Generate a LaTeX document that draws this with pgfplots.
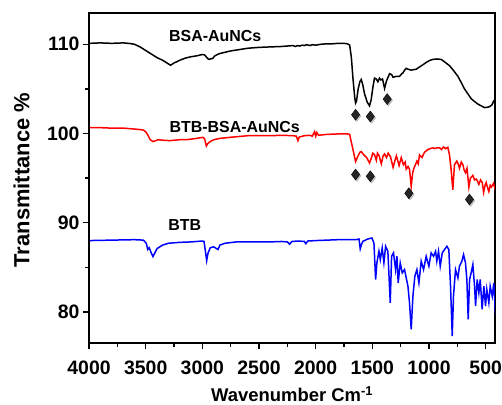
\documentclass[border=0pt]{standalone}
\usepackage{fontspec}
\setmainfont{Liberation Sans}
\usepackage{pgfplots}
\pgfplotsset{compat=1.18}
\begin{document}
\begin{tikzpicture}
\begin{axis}[
  scale only axis, width=406bp, height=330bp,
  x dir=reverse, xmin=415, xmax=4000, ymin=76.5, ymax=113.5,
  xtick={500,1000,...,4000}, ytick={80,90,100,110},
  minor x tick num=1, minor y tick num=1,
  tick align=outside, xtick pos=bottom, ytick pos=left,
  major tick length=6bp, minor tick length=4bp,
  axis line style={line width=1.6pt, black},
  every tick/.append style={line width=1.4pt, black},
  /pgf/number format/assume math mode=true,
  /pgf/number format/1000 sep={},
  ticklabel style={font=\bfseries\fontsize{19.5}{19.5}\selectfont},
  xticklabel style={yshift=-8bp},
  xlabel={Wavenumber Cm\textsuperscript{-1}},
  ylabel={Transmittance \%},
  xlabel style={font=\bfseries\fontsize{18.5}{18.5}\selectfont, at={(axis description cs:0.5,-0.1775)}, anchor=base, inner sep=1bp},
  ylabel style={font=\bfseries\fontsize{22}{22}\selectfont, at={(axis description cs:-0.166,0.494)}, anchor=center, inner sep=1bp},
  clip=true,
]
% BSA-AuNCs (black)
\addplot[black, line width=1.5pt] coordinates {
(4000,110.1)(3900,110.15)(3800,110.1)(3700,110.15)(3650,110.1)(3600,110.0)(3550,109.7)(3500,109.3)(3450,108.9)(3400,108.5)(3350,108.2)(3300,107.8)(3280,107.65)(3250,107.9)(3200,108.2)(3150,108.45)(3100,108.6)(3050,108.7)(3000,108.85)(2980,108.8)(2960,108.5)(2945,108.3)(2930,108.35)(2910,108.4)(2890,108.7)(2850,108.95)(2800,109.1)(2750,109.25)(2700,109.35)(2650,109.45)(2600,109.55)(2500,109.65)(2400,109.7)(2300,109.75)(2250,109.8)(2200,109.85)(2180,109.75)(2160,109.85)(2140,109.8)(2120,109.9)(2100,109.85)(2080,109.95)(2050,109.85)(2030,109.95)(2000,109.9)(1950,110.0)(1900,110.05)(1850,110.05)(1800,110.1)(1750,110.1)(1720,110.05)(1700,109.9)(1685,108.5)(1670,106)(1655,104)(1648,103.4)(1640,103.6)(1625,105)(1610,105.8)(1598,106.05)(1585,105.5)(1570,104.5)(1545,103.5)(1525,103.1)(1510,103.8)(1495,105.2)(1481,106.2)(1465,106.1)(1451,105.8)(1437,106.2)(1425,106.0)(1410,106.1)(1392,105.05)(1375,105.9)(1348,106.7)(1330,106.6)(1317,106.3)(1290,106.4)(1260,106.4)(1240,106.7)(1229,106.8)(1215,107.1)(1201,107.3)(1185,107.2)(1157,107.1)(1135,107.15)(1113,107.2)(1090,107.4)(1054,107.7)(1020,108.0)(990,108.2)(966,108.3)(930,108.35)(893,108.3)(860,108.0)(830,107.7)(819,107.6)(780,107.0)(745,106.4)(715,105.7)(687,105.0)(660,104.5)(628,103.9)(600,103.6)(569,103.3)(540,103.1)(510,102.9)(480,102.95)(466,103.0)(445,103.2)(431,103.6)(420,103.4)(400,103.3)
};
% BTB-BSA-AuNCs (red)
\addplot[red, line width=1.5pt] coordinates {
(4000,100.65)(3900,100.65)(3800,100.6)(3700,100.6)(3600,100.5)(3524,100.4)(3500,100.2)(3480,99.8)(3460,99.3)(3436,99.1)(3410,99.2)(3392,99.3)(3350,99.25)(3288,99.2)(3200,99.3)(3141,99.3)(3050,99.45)(2995,99.57)(2980,99.4)(2965,98.6)(2950,98.9)(2930,99.1)(2900,99.3)(2847,99.45)(2730,99.6)(2600,99.75)(2500,99.75)(2400,99.75)(2300,99.8)(2200,99.75)(2170,99.7)(2157,99.2)(2145,99.6)(2100,99.75)(2050,99.8)(2030,99.7)(2010,100.2)(2000,99.7)(1990,100.1)(1975,99.8)(1900,99.9)(1800,99.95)(1720,99.95)(1700,99.9)(1685,99.0)(1670,98.15)(1648,96.85)(1630,97.4)(1610,97.9)(1598,97.97)(1575,97.6)(1550,97.3)(1525,96.7)(1510,97.2)(1496,97.8)(1480,97.6)(1465,97.0)(1455,97.8)(1440,97.5)(1421,96.6)(1405,97.5)(1392,97.7)(1375,97.3)(1360,97.8)(1340,97.4)(1317,96.2)(1300,97.0)(1288,97.5)(1264,96.4)(1245,97.3)(1226,96.5)(1210,96.8)(1201,96.0)(1185,96.3)(1172,96.0)(1157,94.06)(1145,95.5)(1136,96.0)(1107,96.9)(1095,96.6)(1084,97.6)(1062,97.3)(1040,97.9)(1010,98.2)(990,98.3)(966,98.4)(950,98.3)(930,98.4)(907,98.4)(890,98.2)(872,98.5)(855,98.3)(834,98.45)(819,97.6)(805,96.0)(790,93.7)(775,96.5)(754,96.9)(740,96.5)(731,96.1)(715,96.8)(701,96.5)(690,95.9)(678,95.6)(665,96.1)(648,94.0)(635,95.0)(613,95.3)(598,94.8)(583,94.9)(570,94.6)(560,94.3)(545,94.8)(530,94.5)(518,93.4)(505,94.2)(495,94.5)(485,94.0)(472,93.5)(460,94.2)(450,94.0)(431,94.4)(420,93.9)(400,93.3)
};
% BTB (blue)
\addplot[blue, line width=1.5pt] coordinates {
(4000,88.0)(3800,88.05)(3600,88.1)(3520,88.05)(3495,87.7)(3482,87.0)(3470,87.2)(3450,86.6)(3436,86.2)(3420,86.6)(3400,87.1)(3350,87.5)(3300,87.7)(3200,87.8)(3100,87.85)(3000,87.95)(2985,87.9)(2970,86.5)(2962,85.75)(2950,86.6)(2930,87.2)(2900,87.3)(2875,87.1)(2862,87.0)(2845,87.5)(2800,87.7)(2700,87.85)(2600,87.85)(2400,87.85)(2300,87.9)(2250,87.85)(2230,87.6)(2210,87.9)(2150,87.95)(2100,87.9)(2087,87.65)(2070,87.95)(2000,88.0)(1900,88.05)(1800,88.1)(1700,88.1)(1642,88.1)(1618,88.18)(1607,87.06)(1595,87.6)(1583,87.92)(1539,88.18)(1504,88.29)(1486,87.73)(1471,83.64)(1460,85.5)(1442,86.8)(1430,85.87)(1413,87.17)(1398,85.5)(1383,87.36)(1363,86.8)(1342,81.03)(1330,86.24)(1313,86.62)(1295,84.75)(1283,86.24)(1272,83.26)(1254,85.5)(1236,84.38)(1216,84.75)(1201,83.82)(1186,82.89)(1172,81.03)(1157,78.05)(1142,81.77)(1125,84.0)(1107,84.75)(1089,83.26)(1069,85.69)(1048,84.75)(1025,86.24)(1001,85.13)(981,86.62)(960,86.24)(942,86.8)(931,85.69)(916,86.8)(901,85.13)(883,86.62)(863,86.99)(842,87.36)(825,86.99)(810,82.89)(795,77.31)(784,81.77)(766,84.75)(745,83.82)(731,85.13)(710,85.69)(695,86.43)(678,85.5)(666,83.64)(654,79.17)(642,83.64)(628,84.38)(613,85.31)(598,82.89)(589,80.66)(575,83.64)(560,82.15)(548,83.64)(531,80.29)(516,82.89)(501,80.66)(490,82.52)(472,81.03)(460,82.89)(442,81.77)(428,83.26)(413,79.54)(400,81.0)
};
% diamond shadows
\addplot[only marks, mark=diamond*, mark size=5.5bp, draw=gray, fill=gray, opacity=0.45, mark options={xshift=1.3bp, yshift=-1.3bp}] coordinates {
(1648,102.1)(1518,101.9)(1369,103.85)(1648,95.4)(1518,95.2)(1178,93.3)(643,92.6)
};
% diamonds
\addplot[only marks, mark=diamond*, mark size=5.5bp, draw=black, fill=black!85] coordinates {
(1648,102.1)(1518,101.9)(1369,103.85)(1648,95.4)(1518,95.2)(1178,93.3)(643,92.6)
};
\node[font=\bfseries\fontsize{16}{16}\selectfont, anchor=center] at (axis cs:2886,110.97) {BSA-AuNCs};
\node[font=\bfseries\fontsize{16}{16}\selectfont, anchor=center] at (axis cs:2715,100.67) {BTB-BSA-AuNCs};
\node[font=\bfseries\fontsize{16}{16}\selectfont, anchor=center] at (axis cs:3155,89.7) {BTB};
\end{axis}
\draw[line width=1.6pt, black] (current axis.south west) rectangle (current axis.north east);
\pgfresetboundingbox
\path[use as bounding box] ([shift={(-89bp,-61bp)}]current axis.south west) rectangle ([shift={(6.7bp,13bp)}]current axis.north east);
\end{tikzpicture}
\end{document}
